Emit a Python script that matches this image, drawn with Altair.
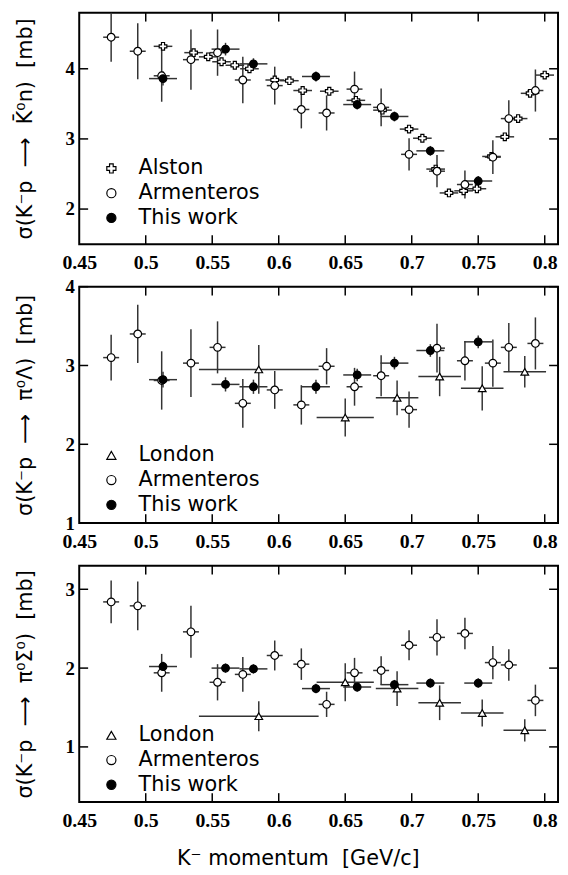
import altair as alt
import pandas as pd

X_TICKS = [0.45, 0.5, 0.55, 0.6, 0.65, 0.7, 0.75, 0.8]
X_DOMAIN = [0.45, 0.81]

# ---------- shared x positions ----------
arm_x = [0.474, 0.494, 0.512, 0.534, 0.554, 0.573, 0.597, 0.617, 0.636,
         0.657, 0.677, 0.698, 0.719, 0.740, 0.761, 0.773, 0.793]
tw_x = [0.513, 0.560, 0.581, 0.628, 0.659, 0.687, 0.714, 0.750]
lon_x = [0.585, 0.650, 0.689, 0.721, 0.753, 0.785]
lon_dx = [0.045, 0.0215, 0.016, 0.016, 0.016, 0.016]

# ---------- panel 1: K-p -> K0bar n ----------
alston_x = [0.513, 0.536, 0.547, 0.557, 0.567, 0.578, 0.597, 0.608, 0.618,
            0.638, 0.658, 0.678, 0.698, 0.708, 0.718, 0.728, 0.739, 0.749,
            0.760, 0.770, 0.780, 0.789, 0.800]
alston_y = [4.32, 4.23, 4.17, 4.10, 4.05, 4.00, 3.84, 3.83, 3.69,
            3.68, 3.55, 3.41, 3.14, 3.01, 2.57, 2.23, 2.26, 2.29,
            2.75, 3.03, 3.29, 3.65, 3.91]
alston_dy = [0.03] * 23
p1_arm_y = [4.45, 4.25, 3.90, 4.13, 4.23, 3.84, 3.76, 3.42, 3.37,
            3.71, 3.45, 2.78, 2.54, 2.35, 2.74, 3.29, 3.69]
p1_arm_dy = [0.35, 0.40, 0.37, 0.43, 0.33, 0.33, 0.27, 0.27, 0.25,
             0.25, 0.27, 0.23, 0.23, 0.20, 0.24, 0.26, 0.30]
p1_tw_y = [3.86, 4.28, 4.07, 3.89, 3.49, 3.32, 2.83, 2.40]
p1_tw_dy = [0.10, 0.09, 0.08, 0.07, 0.07, 0.07, 0.07, 0.07]

# ---------- panel 2: K-p -> pi0 Lambda ----------
p2_lon_y = [2.95, 2.34, 2.59, 2.86, 2.71, 2.92]
p2_lon_dy = [0.31, 0.24, 0.22, 0.25, 0.28, 0.20]
p2_arm_y = [3.10, 3.40, 2.81, 3.03, 3.23, 2.52, 2.69, 2.50, 2.99,
            2.73, 2.87, 2.44, 3.22, 3.06, 3.03, 3.23, 3.28]
p2_arm_dy = [0.29, 0.37, 0.37, 0.43, 0.33, 0.31, 0.24, 0.25, 0.23,
             0.24, 0.26, 0.23, 0.31, 0.25, 0.30, 0.31, 0.33]
p2_tw_y = [2.82, 2.76, 2.73, 2.73, 2.88, 3.03, 3.19, 3.30]
p2_tw_dy = [0.10, 0.09, 0.09, 0.09, 0.08, 0.08, 0.08, 0.08]

# ---------- panel 3: K-p -> pi0 Sigma0 ----------
p3_lon_y = [1.39, 1.82, 1.74, 1.56, 1.43, 1.21]
p3_lon_dy = [0.19, 0.24, 0.22, 0.22, 0.17, 0.14]
p3_arm_y = [2.84, 2.79, 1.94, 2.46, 1.82, 1.92, 2.16, 2.05, 1.54,
            1.94, 1.97, 2.29, 2.39, 2.44, 2.07, 2.04, 1.59]
p3_arm_dy = [0.27, 0.31, 0.24, 0.33, 0.23, 0.22, 0.19, 0.20, 0.16,
             0.19, 0.18, 0.19, 0.23, 0.20, 0.21, 0.20, 0.20]
p3_tw_y = [2.02, 2.00, 1.99, 1.74, 1.76, 1.79, 1.81, 1.81]
p3_tw_dy = [0.06] * 8

ARM_DX = 0.006
ALSTON_DX = 0.007
TW_DX = 0.0105

W = 484
TEXT_FONT = "DejaVu Sans"
NUM_FONT = "'Liberation Serif', 'Times New Roman', Times, serif"


def make_df(series):
    rows = []
    for name, xs, ys, dxs, dys in series:
        for x, y, dx, dy in zip(xs, ys, dxs, dys):
            rows.append(dict(series=name, x=x, y=y, xlo=x - dx, xhi=x + dx,
                             ylo=y - dy, yhi=y + dy))
    return pd.DataFrame(rows)


def panel(series, names, shapes, fills, ydomain, yticks, ytitle, H,
          legend_y, xtitle=None):
    df = make_df(series)
    xs = alt.Scale(domain=X_DOMAIN, nice=False, zero=False)
    ys = alt.Scale(domain=ydomain, nice=False, zero=False)
    if xtitle:
        xaxis = alt.Axis(values=X_TICKS, format="~g", title=xtitle,
                         titleX=221, titleAlign="center")
    else:
        xaxis = alt.Axis(values=X_TICKS, format="~g", title=None)
    yaxis = alt.Axis(values=yticks, title=ytitle)
    X = lambda f: alt.X(f, scale=xs, axis=xaxis)
    Y = lambda f: alt.Y(f, scale=ys, axis=yaxis)

    base = alt.Chart(df)
    hbar = base.mark_rule(color="#333", strokeWidth=1.5).encode(
        x=X("xlo:Q"), x2="xhi:Q", y=Y("y:Q"))
    vbar = base.mark_rule(color="#333", strokeWidth=1.5).encode(
        x=X("x:Q"), y=Y("ylo:Q"), y2="yhi:Q")
    leg = alt.Legend(title=None, orient="none", legendX=22, legendY=legend_y)
    pts = base.mark_point(filled=True, strokeWidth=1.2, size=60,
                          opacity=1).encode(
        x=X("x:Q"), y=Y("y:Q"),
        shape=alt.Shape("series:N", scale=alt.Scale(domain=names, range=shapes),
                        legend=leg),
        fill=alt.Fill("series:N", scale=alt.Scale(domain=names, range=fills),
                      legend=leg),
        stroke=alt.Stroke("series:N",
                          scale=alt.Scale(domain=names,
                                          range=["black", "black", "black"]),
                          legend=leg),
    )
    xt = pd.DataFrame({"t": X_TICKS[1:]})
    yt = pd.DataFrame({"t": yticks})
    tick_kw = dict(color="black", strokeWidth=1.5)
    t_top = alt.Chart(xt).mark_rule(**tick_kw).encode(
        x=X("t:Q"), y=alt.value(0), y2=alt.value(9))
    t_bot = alt.Chart(xt).mark_rule(**tick_kw).encode(
        x=X("t:Q"), y=alt.value(H), y2=alt.value(H - 9))
    t_left = alt.Chart(yt).mark_rule(**tick_kw).encode(
        y=Y("t:Q"), x=alt.value(0), x2=alt.value(9))
    t_right = alt.Chart(yt).mark_rule(**tick_kw).encode(
        y=Y("t:Q"), x=alt.value(W - 9), x2=alt.value(W))
    return alt.layer(hbar, vbar, t_top, t_bot, t_left, t_right, pts).properties(
        width=W, height=H)


p1 = panel(
    [("Alston", alston_x, alston_y, [ALSTON_DX] * len(alston_x), alston_dy),
     ("Armenteros", arm_x, p1_arm_y, [ARM_DX] * len(arm_x), p1_arm_dy),
     ("This work", tw_x, p1_tw_y, [TW_DX] * len(tw_x), p1_tw_dy)],
    ["Alston", "Armenteros", "This work"], ["cross", "circle", "circle"],
    ["white", "white", "black"], [1.5, 4.8], [2, 3, 4],
    "σ(K⁻p \u00a0⟶\u00a0 K̄⁰n) \u00a0[mb]", 234, 147)

p2 = panel(
    [("London", lon_x, p2_lon_y, lon_dx, p2_lon_dy),
     ("Armenteros", arm_x, p2_arm_y, [ARM_DX] * len(arm_x), p2_arm_dy),
     ("This work", tw_x, p2_tw_y, [TW_DX] * len(tw_x), p2_tw_dy)],
    ["London", "Armenteros", "This work"], ["triangle-up", "circle", "circle"],
    ["white", "white", "black"], [1, 4], [1, 2, 3, 4],
    "σ(K⁻p \u00a0⟶\u00a0 π⁰Λ) \u00a0[mb]", 239, 160)

p3 = panel(
    [("London", lon_x, p3_lon_y, lon_dx, p3_lon_dy),
     ("Armenteros", arm_x, p3_arm_y, [ARM_DX] * len(arm_x), p3_arm_dy),
     ("This work", tw_x, p3_tw_y, [TW_DX] * len(tw_x), p3_tw_dy)],
    ["London", "Armenteros", "This work"], ["triangle-up", "circle", "circle"],
    ["white", "white", "black"], [0.3, 3.3], [1, 2, 3],
    "σ(K⁻p \u00a0⟶\u00a0 π⁰Σ⁰) \u00a0[mb]", 239, 161,
    xtitle="K⁻ momentum \u00a0[GeV/c]")

chart = alt.vconcat(p1, p2, p3, spacing=43, bounds="flush").resolve_scale(
    y="independent", shape="independent", fill="independent",
    stroke="independent"
).resolve_legend(
    shape="independent", fill="independent", stroke="independent"
).properties(
    padding={"left": 5, "top": -2, "right": 0, "bottom": 0},
    background="white"
).configure_view(
    stroke="black", strokeWidth=2
).configure_axis(
    ticks=False, domain=False, grid=False, labelFlush=False,
    labelOverlap=False, labelFont=NUM_FONT, labelFontWeight="bold",
    labelColor="black", titleFont=TEXT_FONT,
    titleFontSize=21, titleFontWeight="normal", titleColor="black"
).configure_axisX(
    labelPadding=9, titlePadding=17, labelFontSize=20
).configure_axisY(
    labelPadding=5, titlePadding=30, labelFontSize=19
).configure_legend(
    labelFont=TEXT_FONT, labelFontSize=21, labelColor="black",
    symbolSize=85, symbolStrokeWidth=1.2, labelOffset=17, rowPadding=3,
    padding=0
)

chart.save("out.html", embed_options={"renderer": "svg", "actions": False})
